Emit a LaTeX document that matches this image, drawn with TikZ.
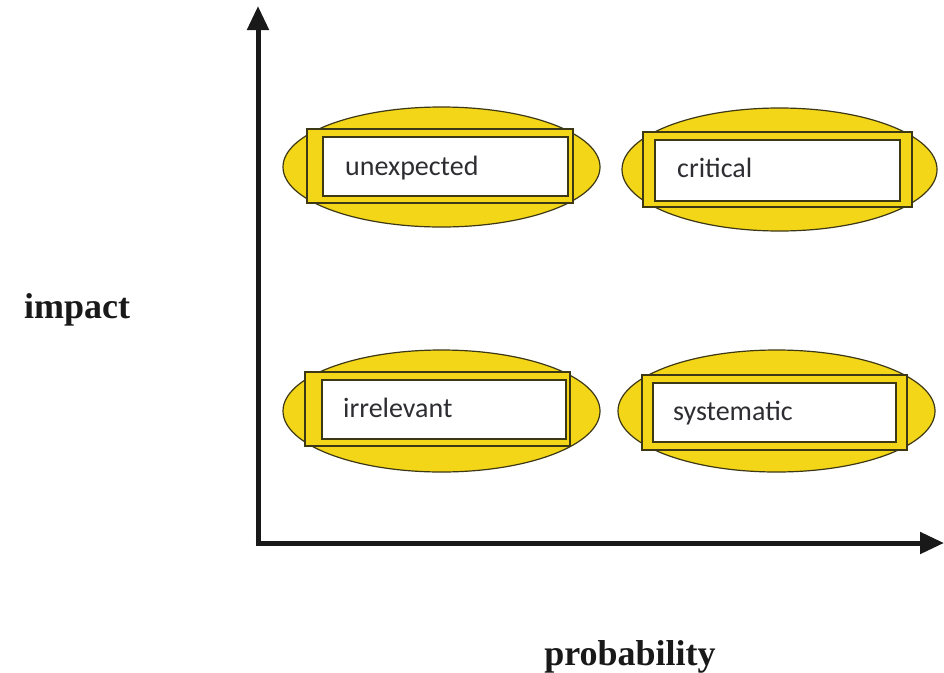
\documentclass[tikz,border=0pt]{standalone}
\usepackage{fontspec}
\setmainfont{Liberation Serif}
\newfontfamily\calfont{Carlito}
\usetikzlibrary{shapes.geometric,arrows.meta}
\definecolor{yel}{RGB}{243,214,24}
\definecolor{edge}{RGB}{60,55,20}
\definecolor{txt}{RGB}{45,45,50}
\definecolor{axis}{RGB}{25,25,25}
\tikzset{
  blob/.style={ellipse, draw=edge, line width=1.2pt, fill=yel, inner sep=0pt},
  outerbox/.style={rectangle, draw=edge, line width=1.6pt, fill=yel, inner sep=0pt},
  innerbox/.style={rectangle, draw=edge, line width=1.6pt, fill=white, inner sep=0pt},
  word/.style={anchor=base west, inner sep=0pt, font=\calfont\fontsize{28}{31}\selectfont, text=txt},
  axislabel/.style={anchor=base, inner sep=0pt, font=\bfseries\fontsize{36}{40}\selectfont, text=axis},
  axisline/.style={draw=axis, line width=5pt, -{Triangle[length=24pt,width=21pt]}}
}
\begin{document}
\begin{tikzpicture}[x=1pt,y=-1pt]
\useasboundingbox (0,0) rectangle (944,672);
\fill[white] (0,0) rectangle (944,672);
% unexpected
\node[blob, minimum width=317pt, minimum height=120pt] (e1) at (441.5,167) {};
\node[outerbox, minimum width=266pt, minimum height=74pt] (o1) at (440,166) {};
\node[innerbox, minimum width=245pt, minimum height=59pt] (i1) at (445.5,166.5) {};
\node[word] (t1) at (345,175) {unexpected};
% critical
\node[blob, minimum width=315pt, minimum height=123pt] (e2) at (779.5,169.5) {};
\node[outerbox, minimum width=269pt, minimum height=75pt] (o2) at (777.5,169.5) {};
\node[innerbox, minimum width=245pt, minimum height=61pt] (i2) at (777.5,170.5) {};
\node[word] (t2) at (677,177) {critical};
% irrelevant
\node[blob, minimum width=317pt, minimum height=122pt] (e3) at (441.5,411) {};
\node[outerbox, minimum width=265pt, minimum height=74pt] (o3) at (437.5,409) {};
\node[innerbox, minimum width=244pt, minimum height=59pt] (i3) at (444,409.5) {};
\node[word] (t3) at (343,417) {irrelevant};
% systematic
\node[blob, minimum width=317pt, minimum height=122pt] (e4) at (776.5,411) {};
\node[outerbox, minimum width=265pt, minimum height=75pt] (o4) at (774.5,412.5) {};
\node[innerbox, minimum width=243pt, minimum height=59pt] (i4) at (774.5,412.5) {};
\node[word] (t4) at (673,420) {systematic};
% axes
\coordinate (origin) at (258,543);
\coordinate (ytip) at (258,6);
\coordinate (xtip) at (944,543);
\draw[axisline] (258,545.5) -- (ytip);
\draw[axisline] (255.5,543) -- (xtip);
% labels
\node[axislabel] (impact) at (77,318) {impact};
\node[axislabel] (prob) at (630,665) {probability};
\end{tikzpicture}
\end{document}
